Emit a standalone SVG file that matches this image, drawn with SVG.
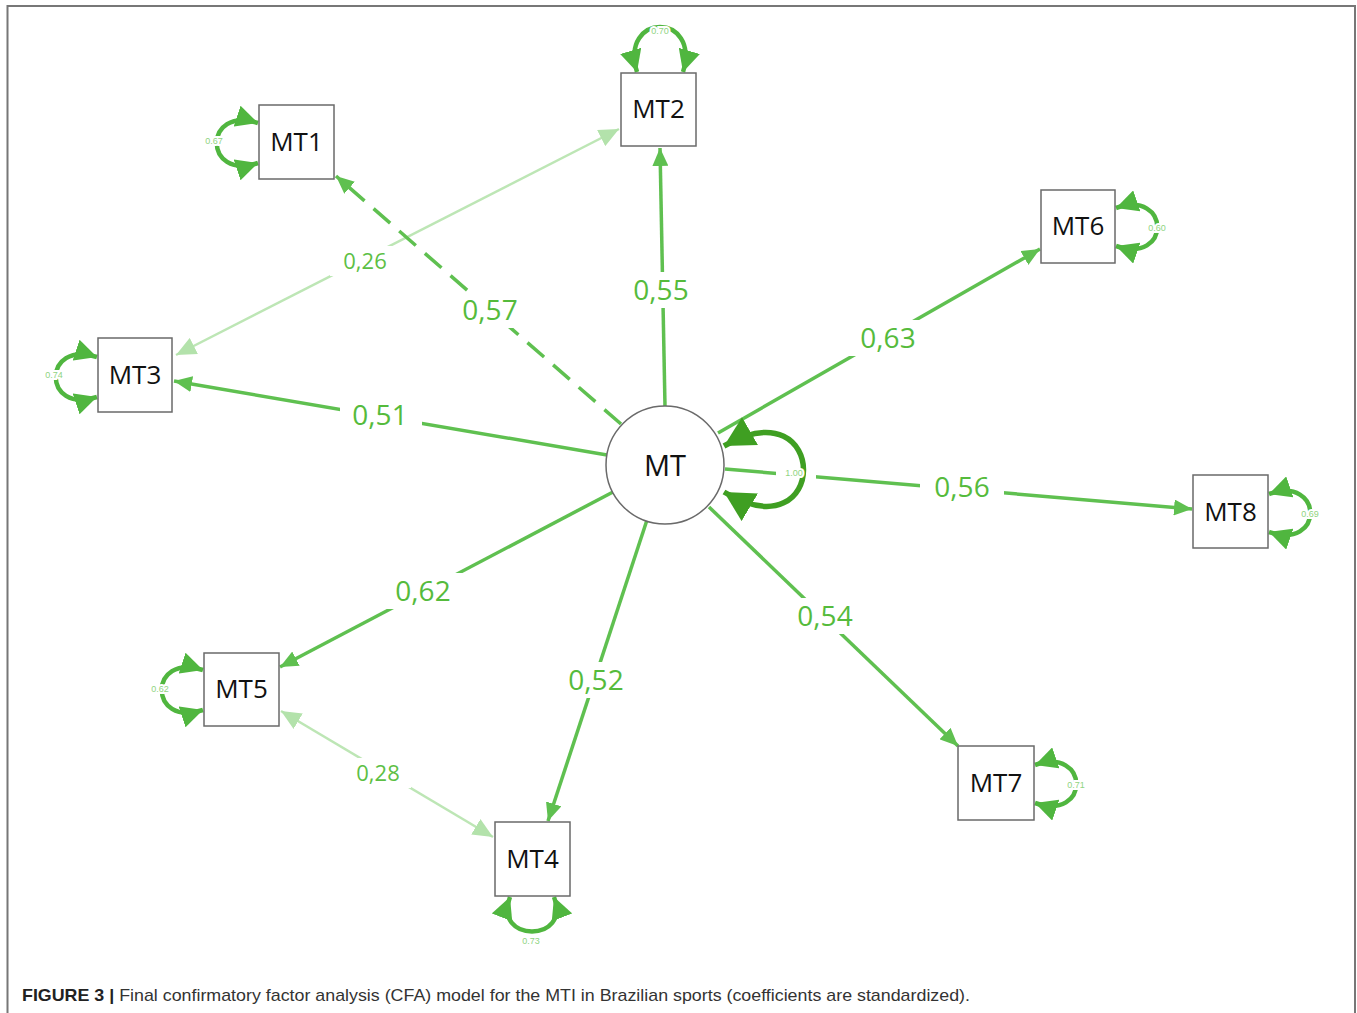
<svg xmlns="http://www.w3.org/2000/svg" width="1357" height="1013" viewBox="0 0 1357 1013">
<style>
.box{fill:#fff;stroke:#6a6a6a;stroke-width:1.5}
.nl{font-family:"Open Sans","Liberation Sans",sans-serif;font-size:26px;fill:#111;text-anchor:middle}
.ln{fill:none;stroke:#5fc050;stroke-width:3.5}
.cov{fill:none;stroke:#bde6b5;stroke-width:2.5}
.loop{fill:none;stroke:#50b63f;stroke-width:4.5}
.el{font-family:"Open Sans","Liberation Sans",sans-serif;font-size:28px;fill:#55bb3c;text-anchor:middle}
.cl{font-family:"Open Sans","Liberation Sans",sans-serif;font-size:22px;fill:#5dbf45;text-anchor:middle}
.sl{font-family:"Liberation Sans",sans-serif;font-size:9px;fill:#8fd47f;text-anchor:middle;stroke:#fff;stroke-width:4;paint-order:stroke}
.gap{fill:#fff}
</style>
<defs>
<marker id="arr" markerUnits="userSpaceOnUse" markerWidth="18" markerHeight="16" refX="18" refY="8" orient="auto"><path d="M0,0 L18,8 L0,16 z" fill="#5fc050"/></marker>
<marker id="arrL" markerUnits="userSpaceOnUse" markerWidth="20" markerHeight="18" refX="20" refY="9" orient="auto-start-reverse"><path d="M0,0 L20,9 L0,18 z" fill="#b3e2ab"/></marker>
<marker id="arrV" markerUnits="userSpaceOnUse" markerWidth="22" markerHeight="22" refX="22" refY="11" orient="auto-start-reverse"><path d="M0,0 L22,11 L0,22 z" fill="#50b63f"/></marker>
<marker id="arrM" markerUnits="userSpaceOnUse" markerWidth="30" markerHeight="32" refX="30" refY="16" orient="auto-start-reverse"><path d="M0,0 L30,16 L0,32 z" fill="#3f9f22"/></marker>
</defs>
<rect width="1357" height="1013" fill="#fff"/>
<path d="M7.5,1013 V6 H1355 V1013" fill="none" stroke="#777" stroke-width="2"/>

<g id="connectors">
<line class="cov" x1="176" y1="355" x2="619" y2="129" marker-start="url(#arrL)" marker-end="url(#arrL)"/>
<line class="cov" x1="281" y1="711" x2="493" y2="837" marker-start="url(#arrL)" marker-end="url(#arrL)"/>
<line class="ln" x1="621" y1="424" x2="336" y2="176" stroke-dasharray="22 12" marker-end="url(#arr)"/>
<line class="ln" x1="665" y1="406" x2="660" y2="148" marker-end="url(#arr)"/>
<line class="ln" x1="718" y1="433" x2="1040" y2="249" marker-end="url(#arr)"/>
<line class="ln" x1="607" y1="455" x2="174" y2="381" marker-end="url(#arr)"/>
<line class="ln" x1="725" y1="469" x2="1192" y2="509" marker-end="url(#arr)"/>
<line class="ln" x1="613" y1="492" x2="280" y2="667" marker-end="url(#arr)"/>
<line class="ln" x1="647" y1="520" x2="548" y2="821" marker-end="url(#arr)"/>
<line class="ln" x1="709" y1="507" x2="958" y2="746" marker-end="url(#arr)"/>
<rect class="gap" x="450" y="292" width="80" height="36"/>
<rect class="gap" x="621" y="272" width="80" height="36"/>
<rect class="gap" x="848" y="320" width="80" height="36"/>
<rect class="gap" x="340" y="397" width="82" height="36"/>
<rect class="gap" x="920" y="469" width="84" height="36"/>
<rect class="gap" x="383" y="573" width="80" height="36"/>
<rect class="gap" x="556" y="662" width="80" height="36"/>
<rect class="gap" x="785" y="598" width="80" height="36"/>
<rect class="gap" x="330" y="246" width="70" height="30"/>
<rect class="gap" x="345" y="758" width="66" height="30"/>
<rect class="gap" x="776" y="462" width="40" height="22"/>
<text class="el" x="490" y="320">0,57</text>
<text class="el" x="661" y="300">0,55</text>
<text class="el" x="888" y="348">0,63</text>
<text class="el" x="380" y="425">0,51</text>
<text class="el" x="962" y="497">0,56</text>
<text class="el" x="423" y="601">0,62</text>
<text class="el" x="596" y="690">0,52</text>
<text class="el" x="825" y="626">0,54</text>
<text class="cl" x="365" y="269">0,26</text>
<text class="cl" x="378" y="781">0,28</text>
</g>

<g id="variances">
<path class="loop" d="M258,123 C203,105 203,181 258,163" marker-start="url(#arrV)" marker-end="url(#arrV)"/>
<text class="sl" x="214" y="144">0.67</text>
<path class="loop" d="M637,72 C619,12 701,12 683,72" marker-start="url(#arrV)" marker-end="url(#arrV)"/>
<text class="sl" x="660" y="34">0.70</text>
<path class="loop" d="M1116,208 C1171,189 1171,265 1116,246" marker-start="url(#arrV)" marker-end="url(#arrV)"/>
<text class="sl" x="1157" y="231">0.60</text>
<path class="loop" d="M97,357 C42,339 42,415 97,397" marker-start="url(#arrV)" marker-end="url(#arrV)"/>
<text class="sl" x="54" y="378">0.74</text>
<path class="loop" d="M1269,494 C1324,475 1324,551 1269,532" marker-start="url(#arrV)" marker-end="url(#arrV)"/>
<text class="sl" x="1310" y="517">0.69</text>
<path class="loop" d="M203,670 C148,652 148,728 203,710" marker-start="url(#arrV)" marker-end="url(#arrV)"/>
<text class="sl" x="160" y="692">0.62</text>
<path class="loop" d="M1035,765 C1090,746 1090,822 1035,803" marker-start="url(#arrV)" marker-end="url(#arrV)"/>
<text class="sl" x="1076" y="788">0.71</text>
<path class="loop" d="M510,897 C492,943 572,943 554,897" marker-start="url(#arrV)" marker-end="url(#arrV)"/>
<text class="sl" x="531" y="944">0.73</text>
<path d="M724,446 C830,385 830,555 724,492" fill="none" stroke="#3f9f22" stroke-width="5.5" marker-start="url(#arrM)" marker-end="url(#arrM)"/>
<text class="sl" x="794" y="476">1.00</text>
</g>

<g id="MT"><circle cx="665" cy="465" r="59" fill="#fff" stroke="#6a6a6a" stroke-width="1.5"/><text class="nl" x="665" y="476" style="font-size:29px">MT</text></g>
<g id="MT1"><rect class="box" x="259" y="105" width="75" height="74"/><text class="nl" x="296.5" y="151">MT1</text></g>
<g id="MT2"><rect class="box" x="621" y="73" width="75" height="73"/><text class="nl" x="658.5" y="118">MT2</text></g>
<g id="MT6"><rect class="box" x="1041" y="190" width="74" height="73"/><text class="nl" x="1078" y="235">MT6</text></g>
<g id="MT3"><rect class="box" x="98" y="338" width="74" height="74"/><text class="nl" x="135" y="384">MT3</text></g>
<g id="MT8"><rect class="box" x="1193" y="475" width="75" height="73"/><text class="nl" x="1230.5" y="521">MT8</text></g>
<g id="MT5"><rect class="box" x="204" y="653" width="75" height="73"/><text class="nl" x="241.5" y="698">MT5</text></g>
<g id="MT7"><rect class="box" x="958" y="746" width="76" height="74"/><text class="nl" x="996" y="792">MT7</text></g>
<g id="MT4"><rect class="box" x="495" y="822" width="75" height="74"/><text class="nl" x="532.5" y="868">MT4</text></g>

<text x="22" y="1001" font-family="'Liberation Sans Narrow','Liberation Sans',sans-serif" font-size="17" fill="#333" textLength="948" lengthAdjust="spacingAndGlyphs"><tspan font-weight="bold" fill="#222">FIGURE 3 |</tspan> Final confirmatory factor analysis (CFA) model for the MTI in Brazilian sports (coefficients are standardized).</text>
</svg>
